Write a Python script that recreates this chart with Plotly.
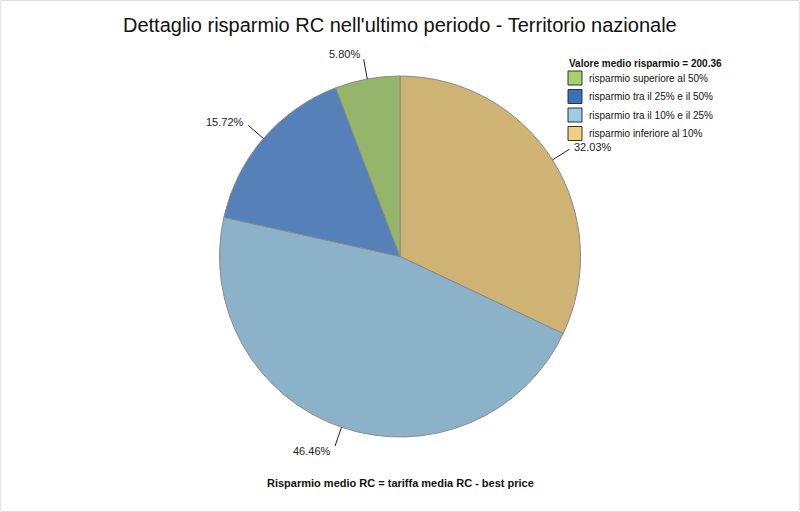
import math
import plotly.graph_objects as go

# ---- data ----
labels = ["risparmio inferiore al 10%", "risparmio tra il 10% e il 25%",
          "risparmio tra il 25% e il 50%", "risparmio superiore al 50%"]
values = [32.03, 46.46, 15.72, 5.80]
colors = ["#ceb374", "#8cb2c9", "#5580b8", "#94b56a"]
legend_colors = ["#f0d080", "#9ccbe8", "#3a70b8", "#a8d070"]
title_text = "Dettaglio risparmio RC nell'ultimo periodo - Territorio nazionale"
legend_title = "<b>Valore medio risparmio = 200.36</b>"
footer_text = "<b>Risparmio medio RC = tariffa media RC - best price</b>"

W, H = 800, 512
CX, CY, R = 400.0, 256.5, 180.5

fig = go.Figure(go.Pie(
    labels=labels, values=values, sort=False, direction="clockwise",
    rotation=0, textinfo="none", hoverinfo="label+percent", showlegend=False,
    marker=dict(colors=colors, line=dict(color="#8a8a8a", width=1)),
    domain=dict(x=[(CX - R) / W, (CX + R) / W], y=[1 - (CY + R) / H, 1 - (CY - R) / H]),
))

def px(x):
    return x / W

def py(y):
    return 1 - y / H

# leader lines and labels computed from the slice angles
shapes = []
annotations = []
total = sum(values)
cum = 0.0
for v in values:
    mid = (cum + v / 2) / total * 2 * math.pi  # clockwise from 12 o'clock
    cum += v
    s, c = math.sin(mid), math.cos(mid)
    x0, y0 = CX + R * s, CY - R * c
    x1, y1 = CX + (R + 20) * s, CY - (R + 20) * c
    shapes.append(dict(type="line", xref="paper", yref="paper",
                       x0=px(x0), y0=py(y0), x1=px(x1), y1=py(y1),
                       line=dict(color="#222222", width=1)))
    right = s > 0
    tx = x1 + 3 if right else x1 - 2
    ty = y1 - 5 * c
    annotations.append(dict(xref="paper", yref="paper", x=px(tx), y=py(ty),
                            text="%.2f%%" % v, showarrow=False,
                            xanchor="left" if right else "right", yanchor="middle",
                            font=dict(size=11, color="#222222")))

# legend (top to bottom in reverse slice order)
LX, LY0, LSTEP = 568, 78, 18.5
annotations.append(dict(xref="paper", yref="paper", x=px(LX - 1), y=py(63),
                        text=legend_title, showarrow=False, xanchor="left", yanchor="middle",
                        font=dict(size=10, color="#111111")))
for i, (lab, col) in enumerate(zip(labels[::-1], legend_colors[::-1])):
    yc = LY0 + i * LSTEP
    shapes.append(dict(type="rect", xref="paper", yref="paper",
                       x0=px(LX), x1=px(LX + 14), y0=py(yc - 7), y1=py(yc + 7),
                       fillcolor=col, line=dict(color="#333333", width=1)))
    annotations.append(dict(xref="paper", yref="paper", x=px(LX + 19), y=py(yc),
                            text=lab, showarrow=False, xanchor="left", yanchor="middle",
                            font=dict(size=10, color="#111111")))

annotations.append(dict(xref="paper", yref="paper", x=0.5, y=py(25),
                        text=title_text, showarrow=False, xanchor="center", yanchor="middle",
                        font=dict(size=20, color="#111111")))
annotations.append(dict(xref="paper", yref="paper", x=0.5, y=py(483),
                        text=footer_text, showarrow=False, xanchor="center", yanchor="middle",
                        font=dict(size=11, color="#111111")))

shapes.append(dict(type="rect", xref="paper", yref="paper", x0=0.001, y0=0.001, x1=0.999, y1=0.999,
                   line=dict(color="#dddddd", width=1)))

fig.update_layout(
    width=W, height=H, margin=dict(l=0, r=0, t=0, b=0),
    paper_bgcolor="white", plot_bgcolor="white",
    font=dict(family="Liberation Sans, Arial, sans-serif", color="#111111"),
    showlegend=False,
    shapes=shapes, annotations=annotations,
)

fig.write_html("out.html")
